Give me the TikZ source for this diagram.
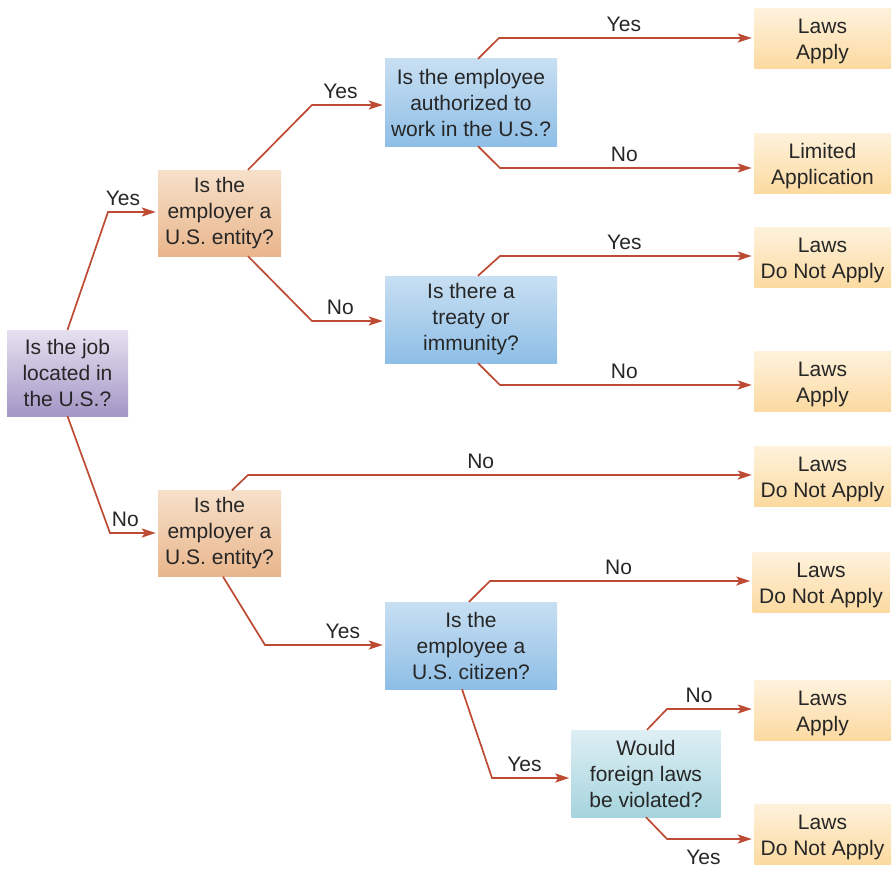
\documentclass[tikz,border=0pt]{standalone}
\usepackage{fontspec}
\setmainfont{Liberation Sans}
\usetikzlibrary{arrows.meta,positioning}
\definecolor{flowred}{RGB}{189,74,50}
\definecolor{jobtop}{RGB}{230,225,240}
\definecolor{jobbot}{RGB}{164,150,198}
\definecolor{emptop}{RGB}{246,224,202}
\definecolor{empbot}{RGB}{233,182,140}
\definecolor{asktop}{RGB}{200,223,242}
\definecolor{askbot}{RGB}{142,190,230}
\definecolor{foretop}{RGB}{222,239,244}
\definecolor{forebot}{RGB}{166,212,222}
\definecolor{endtop}{RGB}{254,242,220}
\definecolor{endbot}{RGB}{252,218,160}
\begin{document}
\begin{tikzpicture}[x=1pt, y=-1pt,
    box/.style={align=center, inner sep=0pt, text=black!85, font=\fontsize{21}{26}\selectfont},
    jobbox/.style={box, top color=jobtop, bottom color=jobbot, minimum width=121, minimum height=86},
    empbox/.style={box, top color=emptop, bottom color=empbot, minimum width=123, minimum height=86},
    askbox/.style={box, top color=asktop, bottom color=askbot, minimum width=172, minimum height=87},
    forebox/.style={box, top color=foretop, bottom color=forebot, minimum width=149, minimum height=87},
    endbox/.style={box, top color=endtop, bottom color=endbot, minimum width=137, minimum height=60, text height=46pt, text depth=4pt},
    flow/.style={draw=flowred, line width=1.7pt, -{Stealth[length=14pt, width=9pt, inset=3pt]}, shorten >=2pt},
    lbl/.style={inner sep=0pt, text depth=4pt, above=2pt, text=black!85, font=\fontsize{21}{26}\selectfont}]
    \useasboundingbox (0,0) rectangle (892,875);
    % questions
    \node[jobbox] (job) at (67.5,373) {Is the job\\located in\\the U.S.?};
    \node[empbox] (emp1) at (219.5,213) {Is the\\employer a\\U.S. entity?};
    \node[askbox] (auth) at (471,102.5) {Is the employee\\authorized to\\work in the U.S.?};
    \node[askbox] (treaty) at (471,319.5) {Is there a\\treaty or\\immunity?};
    \node[empbox] (emp2) at (219.5,533.5) {Is the\\employer a\\U.S. entity?};
    \node[askbox] (citizen) at (471,645.5) {Is the\\employee a\\U.S. citizen?};
    \node[forebox] (foreign) at (646,773.5) {Would\\foreign laws\\be violated?};
    % outcomes
    \node[endbox] (res1) at (822.5,39) {Laws\\Apply};
    \node[endbox] (res2) at (822.5,163) {Limited\\Application};
    \node[endbox] (res3) at (822.5,257.5) {Laws\\Do Not Apply};
    \node[endbox] (res4) at (822.5,381.5) {Laws\\Apply};
    \node[endbox] (res5) at (822.5,476) {Laws\\Do Not Apply};
    \node[endbox] (res6) at (821,582.5) {Laws\\Do Not Apply};
    \node[endbox] (res7) at (822.5,710.5) {Laws\\Apply};
    \node[endbox] (res8) at (822.5,834) {Laws\\Do Not Apply};
    % branches
    \draw[flow] (job.north) -- (108,212) -- node[lbl, pos=.3] (yes1) {Yes} (emp1.west |- 0,212);
    \draw[flow] (job.south) -- (110,533) -- node[lbl, pos=.32] (no1) {No} (emp2.west |- 0,533);
    \draw[flow] ([xshift=28.5]emp1.north) -- (312,105) -- node[lbl, pos=.39] (yes2) {Yes} (auth.west |- 0,105);
    \draw[flow] ([xshift=28.5]emp1.south) -- (312,321) -- node[lbl, pos=.39] (no2) {No} (treaty.west |- 0,321);
    \draw[flow] ([xshift=7]auth.north) -- (499,38) -- node[lbl, pos=.49] (yes3) {Yes} (res1.west |- 0,38);
    \draw[flow] ([xshift=7]auth.south) -- (500,168) -- node[lbl, pos=.49] (no3) {No} (res2.west |- 0,168);
    \draw[flow] ([xshift=7]treaty.north) -- (500,256) -- node[lbl, pos=.49] (yes4) {Yes} (res3.west |- 0,256);
    \draw[flow] ([xshift=7]treaty.south) -- (500,385) -- node[lbl, pos=.49] (no4) {No} (res4.west |- 0,385);
    \draw[flow] ([xshift=12.5]emp2.north) -- (248,475) -- node[lbl, pos=.46] (no5) {No} (res5.west |- 0,475);
    \draw[flow] ([xshift=3.5]emp2.south) -- (265,645) -- node[lbl, pos=.65] (yes5) {Yes} (citizen.west |- 0,645);
    \draw[flow] ([xshift=-2]citizen.north) -- (490,581) -- node[lbl, pos=.49] (no6) {No} (res6.west |- 0,581);
    \draw[flow] ([xshift=-9]citizen.south) -- (492,778) -- node[lbl, pos=.41] (yes6) {Yes} (foreign.west |- 0,778);
    \draw[flow] ([xshift=1]foreign.north) -- (667,709) -- node[lbl, pos=.37] (no7) {No} (res7.west |- 0,709);
    \draw[flow] ([xshift=0]foreign.south) -- (667,839) -- node[lbl, pos=.42, below=10pt] (yes7) {Yes} (res8.west |- 0,839);
\end{tikzpicture}
\end{document}
